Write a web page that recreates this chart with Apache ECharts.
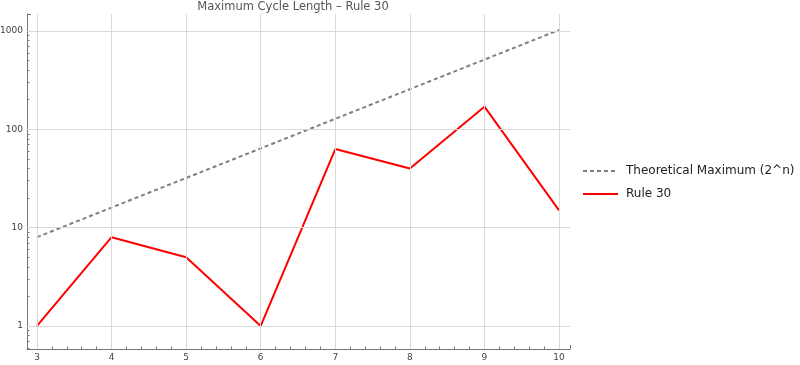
<!DOCTYPE html>
<html><head><meta charset="utf-8">
<script src="https://cdn.jsdelivr.net/npm/echarts@6/dist/echarts.min.js"></script>
<style>html,body{margin:0;padding:0;background:#fff}#c{width:800px;height:365px}</style>
</head><body><div id="c"></div>
<script>
const nValues = [3, 4, 5, 6, 7, 8, 9, 10];
const theoreticalMax = [8, 16, 32, 64, 128, 256, 512, 1024];
const rule30 = [1, 8, 5, 1, 63, 40, 170, 15];
const xTicks = [3, 4, 5, 6, 7, 8, 9, 10];
const yTicks = [1, 10, 100, 1000];

const chart = echarts.init(document.getElementById('c'), null, {renderer: 'canvas'});
const font = 'DejaVu Sans';
const gridColor = '#d9d9d9';
const gridLines = {
  silent: true, symbol: 'none', label: {show: false},
  lineStyle: {color: gridColor, width: 1, type: 'solid'},
  data: xTicks.map(v => ({xAxis: v})).concat(yTicks.map(v => ({yAxis: v})))
};
chart.setOption({
  animation: false,
  title: {text: 'Maximum Cycle Length \u2013 Rule 30', left: 288, textAlign: 'center', top: -4,
    textStyle: {fontFamily: font, fontSize: 11.5, fontWeight: 'normal', color: '#555'}},
  grid: {left: 27, right: 230, top: 14, bottom: 16, containLabel: false, outerBoundsMode: 'none'},
  legend: {orient: 'vertical', left: 577, top: 160, itemWidth: 35, itemHeight: 10, itemGap: 11,
    itemStyle: {opacity: 0, borderWidth: 0},
    textStyle: {fontFamily: font, fontSize: 12, color: '#222', padding: [0, 0, 0, 3]},
    data: ['Theoretical Maximum (2^n)', 'Rule 30']},
  xAxis: {type: 'value', min: 2.866, max: 10.147, splitNumber: 7,
    axisLine: {show: true, lineStyle: {color: '#777', width: 1}},
    axisTick: {show: true, inside: true, length: 4, lineStyle: {color: '#777'}},
    minorTick: {show: true, splitNumber: 5, length: 2.5, lineStyle: {color: '#777'}},
    splitLine: {show: false},
    axisLabel: {showMinLabel: false, showMaxLabel: false, fontFamily: font, fontSize: 9, color: '#444', margin: 4}},
  yAxis: {type: 'log', logBase: 10, min: 0.583, max: 1489,
    axisLine: {show: true, lineStyle: {color: '#777', width: 1}},
    axisTick: {show: true, inside: true, length: 4, lineStyle: {color: '#777'}},
    minorTick: {show: true, splitNumber: 9, length: 2.5, lineStyle: {color: '#777'}},
    splitLine: {show: false},
    axisLabel: {showMinLabel: false, showMaxLabel: false, fontFamily: font, fontSize: 9, color: '#444', margin: 4,
      formatter: v => String(Math.round(v))}},
  series: [
    {name: 'Theoretical Maximum (2^n)', type: 'line', data: nValues.map((n, i) => [n, theoreticalMax[i]]),
      showSymbol: false, symbol: 'none', lineStyle: {color: '#808080', width: 2, type: [4, 3]},
      itemStyle: {color: '#808080'}, z: 3, markLine: gridLines},
    {name: 'Rule 30', type: 'line', data: nValues.map((n, i) => [n, rule30[i]]),
      showSymbol: false, symbol: 'none', lineStyle: {color: '#ff0000', width: 2},
      itemStyle: {color: '#ff0000'}, z: 4}
  ]
});
</script></body></html>
